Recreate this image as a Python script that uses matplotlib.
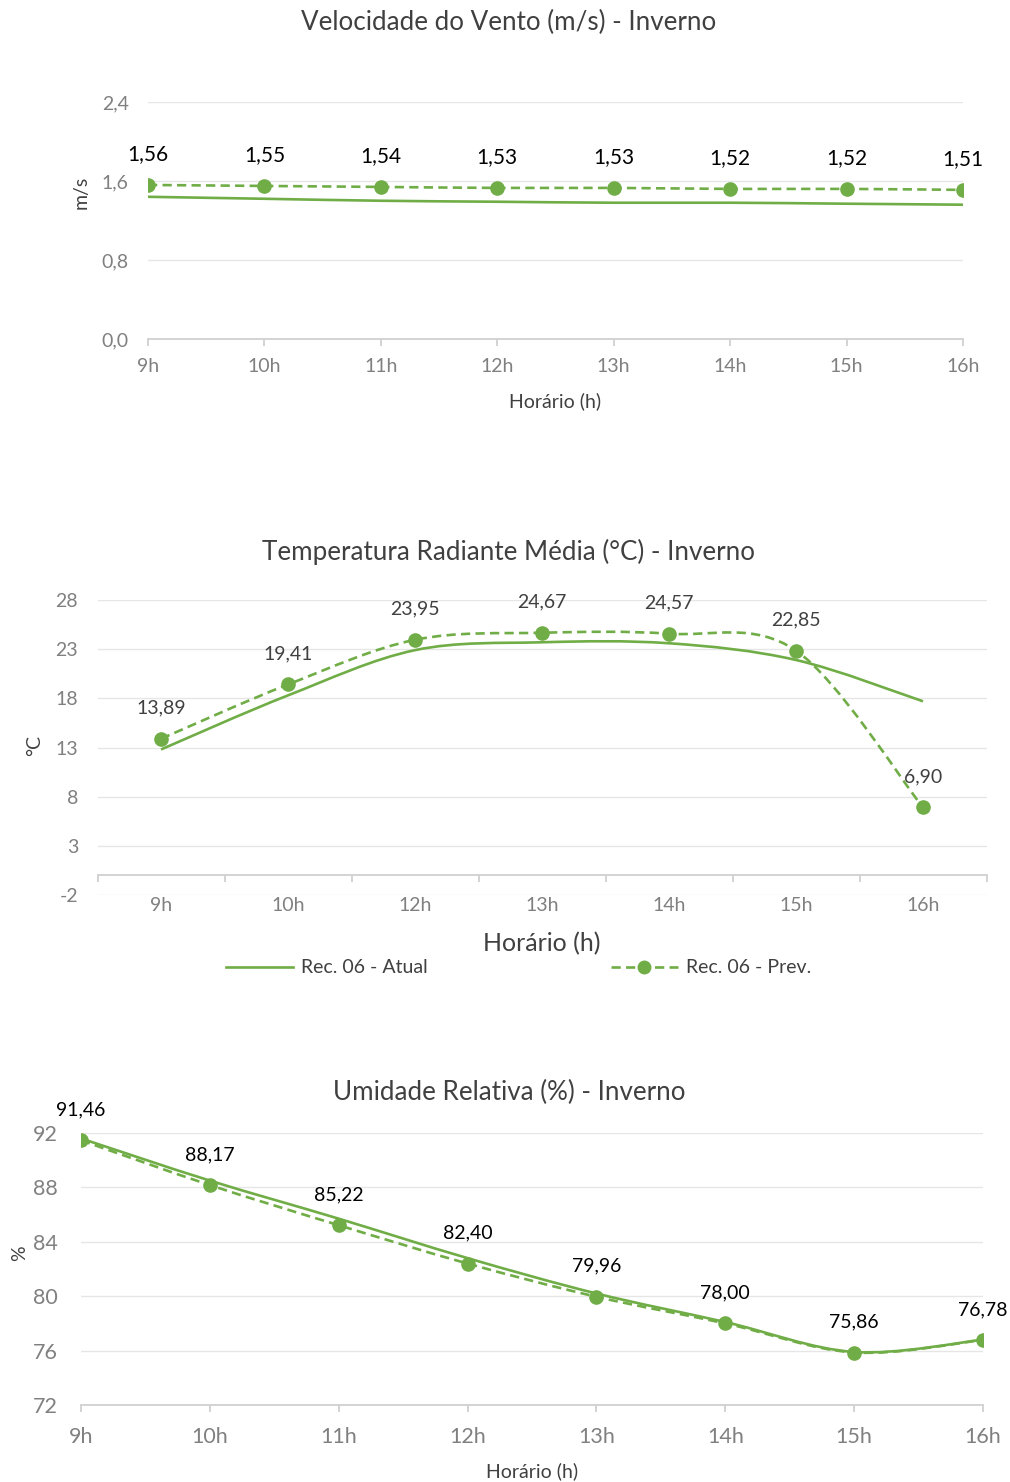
import matplotlib
matplotlib.use('Agg')
import matplotlib.pyplot as plt
from matplotlib.path import Path
from matplotlib.patches import PathPatch
from matplotlib.lines import Line2D
import numpy as np

# dados das três medições de inverno (Rec. 06)
horas = ['9h', '10h', '11h', '12h', '13h', '14h', '15h', '16h']
vento_atual = [1.44, 1.42, 1.40, 1.39, 1.38, 1.38, 1.37, 1.36]
vento_prev = [1.56, 1.55, 1.54, 1.53, 1.53, 1.52, 1.52, 1.51]

horas_trm = ['9h', '10h', '12h', '13h', '14h', '15h', '16h']
trm_atual = [12.8, 18.3, 22.9, 23.7, 23.6, 21.9, 17.7]
trm_prev = [13.89, 19.41, 23.95, 24.67, 24.57, 22.85, 6.90]

umid_atual = [91.6, 88.5, 85.7, 82.8, 80.2, 78.1, 75.9, 76.8]
umid_prev = [91.46, 88.17, 85.22, 82.40, 79.96, 78.00, 75.86, 76.78]

VERDE = '#70AD47'
GRID = '#e6e6e6'
EIXO = '#d0d0d0'
CINZA = '#808080'
ESCURO = '#404040'
LW = 1.9
TRACO = (0, (3.5, 2))

plt.rcParams['font.family'] = ['Lato', 'DejaVu Sans']
plt.rcParams['axes.unicode_minus'] = False

W, H = 1010, 1482
fig = plt.figure(figsize=(W / 100, H / 100), dpi=100)


def px_axes(x0, x1, ytop, ybot):
    return fig.add_axes([x0 / W, 1 - ybot / H, (x1 - x0) / W, (ybot - ytop) / H])


def curva(x, y):
    # linha suavizada estilo Excel (Bezier cúbica, Catmull-Rom)
    n = len(x)
    verts = [(x[0], y[0])]
    codes = [Path.MOVETO]
    for i in range(n - 1):
        a = i - 1 if i > 0 else i
        d = i + 2 if i + 2 < n else i + 1
        c1 = (x[i] + (x[i + 1] - x[a]) / 6, y[i] + (y[i + 1] - y[a]) / 6)
        c2 = (x[i + 1] - (x[d] - x[i]) / 6, y[i + 1] - (y[d] - y[i]) / 6)
        verts += [c1, c2, (x[i + 1], y[i + 1])]
        codes += [Path.CURVE4] * 3
    return Path(verts, codes)


def desenha(ax, atual, prev, cor_rot, fs_rot):
    x = np.arange(len(prev))
    ax.add_patch(PathPatch(curva(x, atual), fill=False, ec=VERDE, lw=LW,
                           zorder=3))
    ax.add_patch(PathPatch(curva(x, prev), fill=False, ec=VERDE, lw=LW,
                           ls=TRACO, zorder=3))
    ax.plot(x, prev, 'o', color=VERDE, ms=9.5, zorder=4)
    for xi, v in zip(x, prev):
        ax.annotate(f'{v:.2f}'.replace('.', ','), (xi, v), xytext=(0, 22),
                    textcoords='offset points', ha='center', va='center',
                    fontsize=fs_rot, color=cor_rot, zorder=5)


def estilo(ax, fs_tick, ypad):
    for s in ['top', 'right', 'left']:
        ax.spines[s].set_visible(False)
    ax.spines['bottom'].set_color(EIXO)
    ax.spines['bottom'].set_linewidth(1.3)
    ax.grid(axis='y', color=GRID, lw=1)
    ax.set_axisbelow(True)
    ax.tick_params(axis='y', length=0, pad=ypad, labelsize=fs_tick, labelcolor=CINZA)
    ax.tick_params(axis='x', labelsize=fs_tick, labelcolor=CINZA)


# --- Velocidade do vento ---
ax1 = px_axes(148, 963, 102, 339)
desenha(ax1, vento_atual, vento_prev, 'black', 15)
ax1.set_xlim(0, 7)
ax1.set_ylim(0, 2.4)
ax1.set_yticks([0, 0.8, 1.6, 2.4])
ax1.set_yticklabels([f'{v:.1f}'.replace('.', ',') for v in [0, 0.8, 1.6, 2.4]])
ax1.set_xticks(range(len(horas)))
ax1.set_xticklabels(horas)
estilo(ax1, 14, 14)
ax1.tick_params(axis='x', length=5, color=EIXO, width=1.3, pad=9)
ax1.set_xlabel('Horário (h)', fontsize=14, color=ESCURO, labelpad=12)
ax1.set_ylabel('m/s', fontsize=14, color=ESCURO, va='center')
ax1.yaxis.set_label_coords((81 - 148) / 815, (339 - 192) / 237)
fig.text(509 / W, 1 - 22 / H, 'Velocidade do Vento (m/s) - Inverno',
         ha='center', va='center', fontsize=18.7, color=ESCURO)

# --- Temperatura radiante média ---
ax2 = px_axes(97.5, 986.5, 600, 895)
desenha(ax2, trm_atual, trm_prev, ESCURO, 14)
ax2.set_xlim(-0.5, 6.5)
ax2.set_ylim(-2, 28)
ax2.set_yticks(np.arange(-2, 29, 5))
ax2.set_xticks(range(len(horas_trm)))
ax2.set_xticklabels(horas_trm)
ax2.set_xticks(np.arange(-0.5, 7, 1), minor=True)
estilo(ax2, 14, 14)
ax2.spines['bottom'].set_position(('data', 0))
ax2.tick_params(axis='x', which='major', length=0, pad=15.5)
ax2.tick_params(axis='x', which='minor', length=5, color=EIXO, width=1.3)
ax2.set_xlabel('Horário (h)', fontsize=18, color=ESCURO, labelpad=13)
ax2.set_ylabel('°C', fontsize=14, color=ESCURO, va='center')
ax2.yaxis.set_label_coords((35 - 97.5) / 889, (895 - 746) / 295)
fig.text(509 / W, 1 - 552 / H, 'Temperatura Radiante Média (°C) - Inverno',
         ha='center', va='center', fontsize=18.7, color=ESCURO)

leg = [Line2D([], [], color=VERDE, lw=LW),
       Line2D([], [], color=VERDE, lw=LW, ls=TRACO, marker='o', ms=9)]
fig.legend(leg, ['Rec. 06 - Atual', 'Rec. 06 - Prev.'], ncol=2, frameon=False,
           loc='center left', bbox_to_anchor=(226 / W, 1 - 968 / H),
           fontsize=14, labelcolor=ESCURO, handlelength=3.45, handletextpad=0.41,
           columnspacing=9.4, borderpad=0, borderaxespad=0)

# --- Umidade relativa ---
ax3 = px_axes(81, 983, 1133, 1405)
desenha(ax3, umid_atual, umid_prev, 'black', 14)
ax3.set_xlim(0, 7)
ax3.set_ylim(72, 92)
ax3.set_yticks(np.arange(72, 93, 4))
ax3.set_xticks(range(len(horas)))
ax3.set_xticklabels(horas)
estilo(ax3, 15.5, 17)
ax3.tick_params(axis='x', length=5, color=EIXO, width=1.3, pad=11)
ax3.set_xlabel('Horário (h)', fontsize=14, color=ESCURO, labelpad=11)
ax3.set_ylabel('%', fontsize=14, color=ESCURO, va='center')
ax3.yaxis.set_label_coords((20 - 81) / 902, (1405 - 1253) / 272)
fig.text(509 / W, 1 - 1092 / H, 'Umidade Relativa (%) - Inverno',
         ha='center', va='center', fontsize=18.7, color=ESCURO)

fig.savefig('out.png', dpi=100)
plt.close(fig)
